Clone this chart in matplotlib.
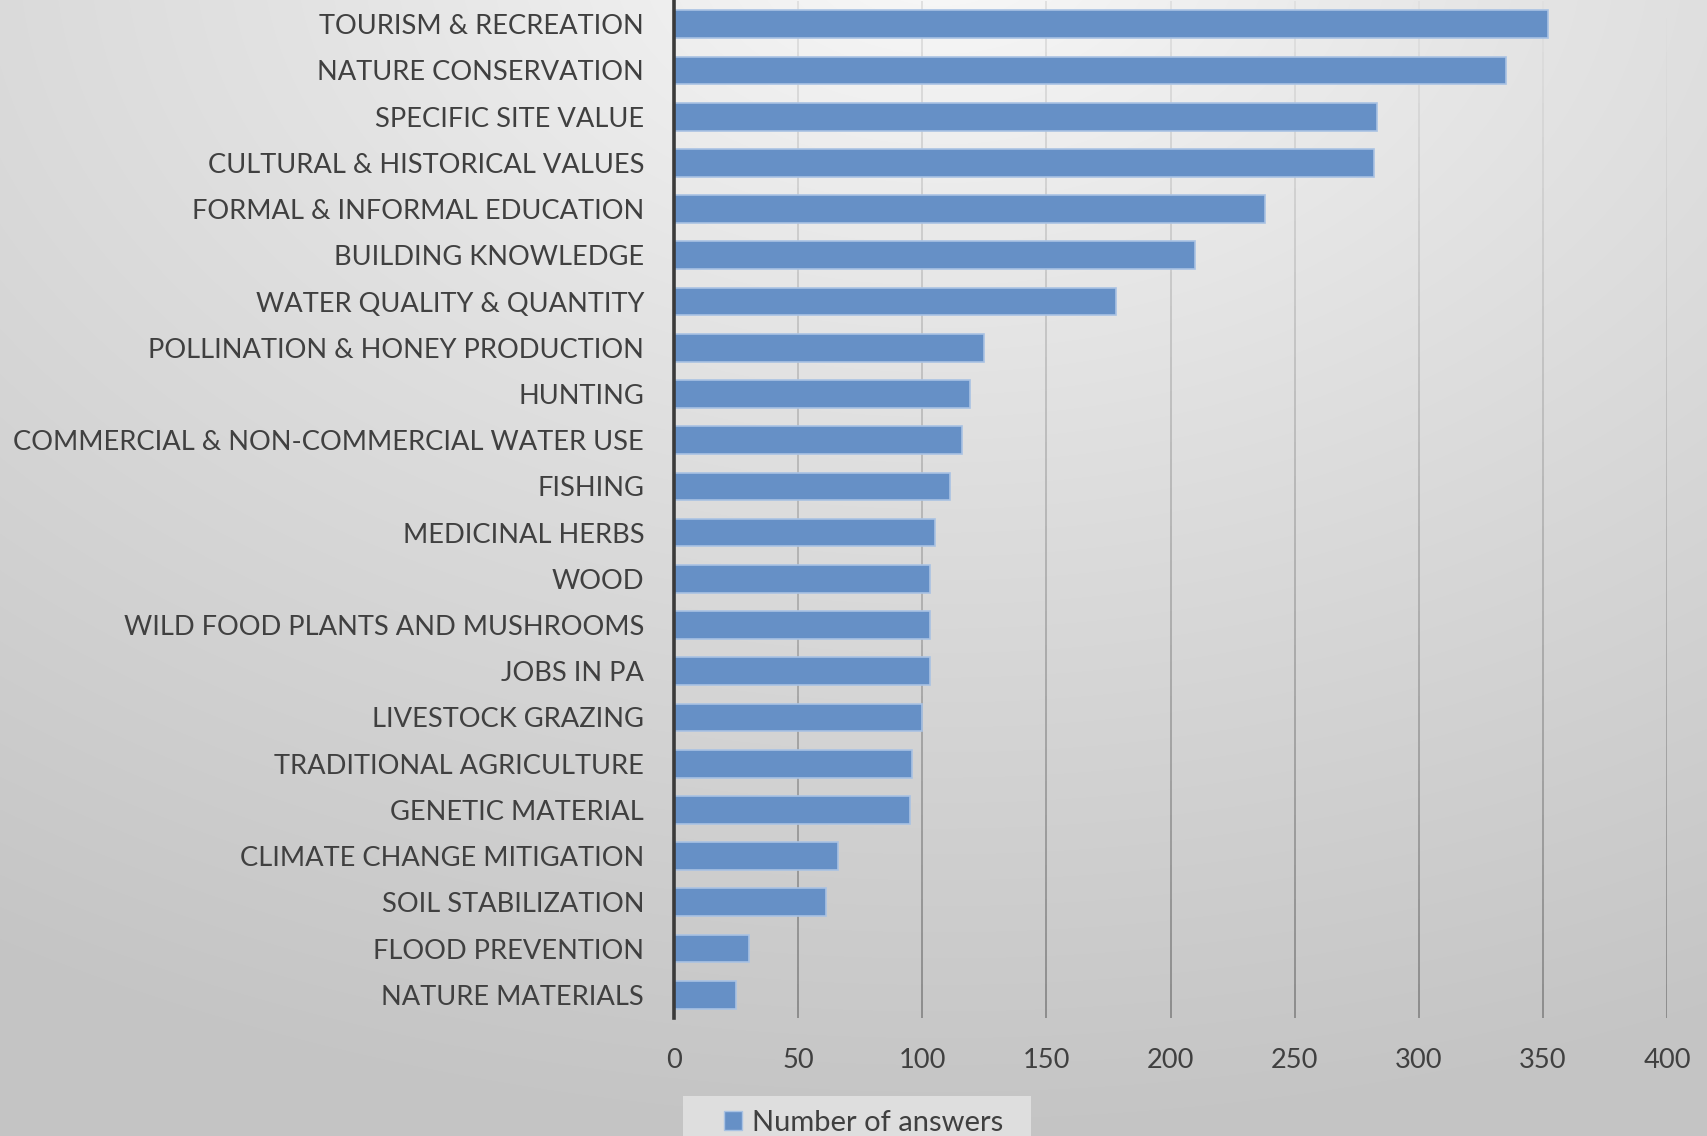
import numpy as np
import matplotlib
matplotlib.use("Agg")
import matplotlib.pyplot as plt
from matplotlib.patches import Patch, Rectangle
from matplotlib.collections import LineCollection

categories = [
    "TOURISM & RECREATION", "NATURE CONSERVATION", "SPECIFIC SITE VALUE",
    "CULTURAL & HISTORICAL VALUES", "FORMAL & INFORMAL EDUCATION",
    "BUILDING KNOWLEDGE", "WATER QUALITY & QUANTITY",
    "POLLINATION & HONEY PRODUCTION", "HUNTING",
    "COMMERCIAL & NON-COMMERCIAL WATER USE", "FISHING", "MEDICINAL HERBS",
    "WOOD", "WILD FOOD PLANTS AND MUSHROOMS", "JOBS IN PA", "LIVESTOCK GRAZING",
    "TRADITIONAL AGRICULTURE", "GENETIC MATERIAL", "CLIMATE CHANGE MITIGATION",
    "SOIL STABILIZATION", "FLOOD PREVENTION", "NATURE MATERIALS",
]
values = [352, 335, 283, 282, 238, 210, 178, 125, 119, 116, 111, 105,
          103, 103, 103, 100, 96, 95, 66, 61, 30, 25]
xticks = [0, 50, 100, 150, 200, 250, 300, 350, 400]
series_name = "Number of answers"

plt.rcParams['font.family'] = ['Lato', 'DejaVu Sans']

W, H = 1707, 1136
fig = plt.figure(figsize=(W / 100, H / 100), dpi=100)

# background radial gradient
bg = fig.add_axes([0, 0, 1, 1], zorder=-10)
yy, xx = np.mgrid[0:H, 0:W]
cx, cy = 0.55 * W, -0.05 * H
d = np.sqrt(((xx - cx) / W) ** 2 + ((yy - cy) / H) ** 2)
d = np.clip(d / 1.05, 0, 1)
g = 0.985 - (0.985 - 0.77) * d ** 0.8
bg.imshow(np.dstack([g, g, g]), aspect='auto', extent=[0, 1, 0, 1], origin='upper')
bg.set_xlim(0, 1)
bg.set_ylim(0, 1)
bg.set_axis_off()
# legend box
bg.add_patch(Rectangle((683 / W, 0), (1031 - 683) / W, 1 - 1096 / H,
                       facecolor='#dedede', edgecolor='none', zorder=2))

ax = fig.add_axes([0.3949, 0.104, 0.5817, 0.895])
ax.patch.set_alpha(0)
y = np.arange(len(categories))
ylo, yhi = len(categories) - 0.5, -0.5
ax.set_ylim(ylo, yhi)
ax.set_xlim(0, 400)

# gradient gridlines (light at top, darker at bottom)
nseg = 60
edges = np.linspace(yhi, ylo, nseg + 1)
segs, cols = [], []
for xt in xticks[1:]:
    for i in range(nseg):
        segs.append([(xt, edges[i]), (xt, edges[i + 1])])
        t = (i + 0.5) / nseg
        c = 0.88 - (0.88 - 0.55) * t
        cols.append((c, c, c))
ax.add_collection(LineCollection(segs, colors=cols, linewidths=1.4, zorder=1,
                                 capstyle='butt'))

ax.barh(y, values, height=0.6, color='#6690c6', edgecolor='#a9c2e3',
        linewidth=1.2, zorder=3)
ax.set_xticks(xticks)
ax.set_yticks(y)
ax.set_yticklabels(categories)
ax.tick_params(axis='y', length=0, pad=21.5, labelsize=19.6, labelcolor='#404040')
ax.tick_params(axis='x', length=0, pad=21.5, labelsize=19.6, labelcolor='#404040')
for s in ['top', 'right', 'bottom']:
    ax.spines[s].set_visible(False)
ax.spines['left'].set_color('#3a3a3a')
ax.spines['left'].set_linewidth(2.6)
ax.spines['left'].set_zorder(5)

leg = fig.legend(handles=[Patch(facecolor='#6690c6', edgecolor='#a9c2e3', label=series_name)],
                 loc='upper left', bbox_to_anchor=(712 / W, 1 - 1098 / H),
                 frameon=False, fontsize=21, handlelength=0.62, handleheight=0.62,
                 handletextpad=0.35, borderpad=0.4, borderaxespad=0,
                 labelcolor='#404040')

fig.savefig('out.png', dpi=100)
